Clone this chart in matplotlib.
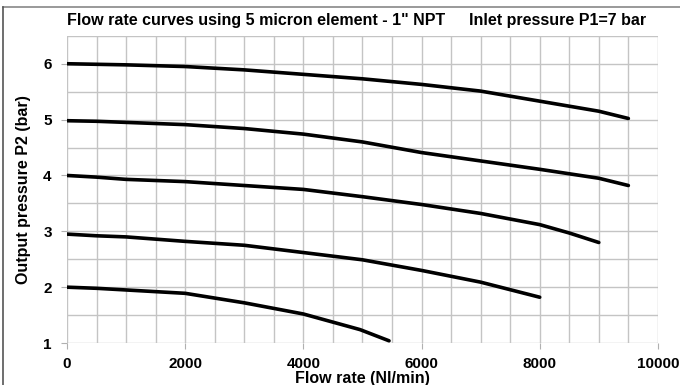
import matplotlib
matplotlib.use("Agg")
import matplotlib.pyplot as plt
from matplotlib.lines import Line2D

plt.rcParams['font.family'] = ['Liberation Sans', 'DejaVu Sans']
plt.rcParams['font.weight'] = 'bold'

# flow rate curves (Nl/min -> bar)
flow_6 = [0, 500, 1000, 2000, 3000, 4000, 5000, 6000, 7000, 8000, 9000, 9500]
p2_6 = [6.0, 5.99, 5.98, 5.95, 5.89, 5.81, 5.73, 5.63, 5.51, 5.33, 5.15, 5.02]

flow_5 = [0, 500, 1000, 2000, 3000, 4000, 5000, 6000, 7000, 8000, 9000, 9500]
p2_5 = [4.98, 4.97, 4.95, 4.91, 4.84, 4.74, 4.6, 4.41, 4.26, 4.11, 3.95, 3.82]

flow_4 = [0, 500, 1000, 2000, 3000, 4000, 5000, 6000, 7000, 8000, 8500, 9000]
p2_4 = [4.0, 3.97, 3.93, 3.89, 3.82, 3.75, 3.62, 3.48, 3.32, 3.12, 2.97, 2.8]

flow_3 = [0, 500, 1000, 2000, 3000, 4000, 5000, 6000, 7000, 8000]
p2_3 = [2.95, 2.92, 2.9, 2.82, 2.75, 2.62, 2.49, 2.3, 2.09, 1.82]

flow_2 = [0, 500, 1000, 2000, 3000, 4000, 4960, 5450]
p2_2 = [2.0, 1.98, 1.95, 1.89, 1.72, 1.52, 1.24, 1.04]

curves = [(flow_6, p2_6), (flow_5, p2_5), (flow_4, p2_4), (flow_3, p2_3), (flow_2, p2_2)]

x_ticks = [0, 2000, 4000, 6000, 8000, 10000]
y_ticks = [1, 2, 3, 4, 5, 6]

fig = plt.figure(figsize=(6.8, 3.85), dpi=100)
ax = fig.add_axes([0.0985, 0.109, 0.869, 0.798])

for fx, py in curves:
    ax.plot(fx, py, color='black', lw=2.6, solid_capstyle='round',
            solid_joinstyle='round', zorder=3)

ax.set_xlim(0, 10000)
ax.set_ylim(1, 6.5)
ax.set_xticks(x_ticks)
ax.set_yticks(y_ticks)
ax.set_xticks(range(0, 10001, 500), minor=True)
ax.set_yticks([1.5, 2.5, 3.5, 4.5, 5.5, 6.5], minor=True)
ax.grid(True, which='both', color='#c4c4c4', lw=1.0)
ax.set_axisbelow(True)
for s in ax.spines.values():
    s.set_visible(False)
ax.tick_params(axis='both', which='major', color='#b0b0b0', length=4, labelsize=11)
ax.tick_params(axis='both', which='minor', length=0)
ax.tick_params(axis='x', pad=6)
ax.tick_params(axis='y', pad=7)
for lab in ax.get_xticklabels() + ax.get_yticklabels():
    lab.set_fontweight('bold')

ax.set_xlabel('Flow rate (Nl/min)', fontsize=11.5, fontweight='bold', labelpad=0)
ax.set_ylabel('Output pressure P2 (bar)', fontsize=11.5, fontweight='bold', labelpad=9)

fig.text(67 / 680, 1 - 20 / 385, 'Flow rate curves using 5 micron element - 1" NPT',
         fontsize=11.5, fontweight='bold', va='center', ha='left')
fig.text(646 / 680, 1 - 20 / 385, 'Inlet pressure P1=7 bar',
         fontsize=11.5, fontweight='bold', va='center', ha='right')

# outer frame (top and left only)
fig.add_artist(Line2D([3 / 680, 1], [1 - 7 / 385] * 2, color='#888888', lw=1.2, transform=fig.transFigure))
fig.add_artist(Line2D([3 / 680] * 2, [0, 1 - 7 / 385], color='#555555', lw=1.2, transform=fig.transFigure))

fig.savefig('out.png', dpi=100)
